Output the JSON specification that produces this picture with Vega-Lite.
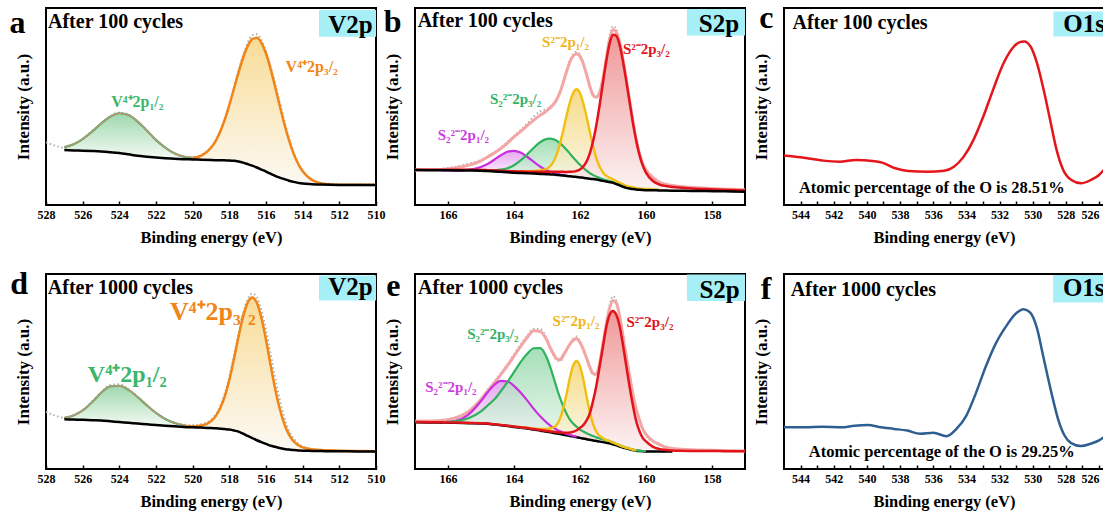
{
"$schema":"https://vega.github.io/schema/vega-lite/v6.json",
"padding":{"left":8,"top":0,"right":0,"bottom":0},
"background":"white",
"config":{
 "view":{"stroke":"#000","strokeWidth":2},
 "font":"Liberation Serif",
 "axis":{"grid":false,"labelFont":"Liberation Serif","titleFont":"Liberation Serif","labelFontWeight":"bold","titleFontWeight":"bold","labelColor":"#000","titleColor":"#000","labelFontSize":12,"titleFontSize":16.5},
 "axisX":{"domain":false,"tickSize":-4,"tickColor":"#000","tickWidth":1.5,"labelPadding":8,"titlePadding":9,"labelFlush":false,"labelOverlap":false},
 "axisY":{"domain":false,"ticks":false,"labels":false,"titlePadding":14,"titleFontSize":17},
 "text":{"font":"Liberation Serif","fontWeight":"bold"}
},
"spacing":19,
"vconcat":[
{"hconcat":[
{
"width":330,"height":197,
"data":{"values":[
{"x":528,"raw":62.5},{"x":527.5,"raw":59},
{"x":527,"bg":54.7,"g":57.6,"env":57.6,"raw":57},
{"x":526.5,"bg":54.3,"g":60.5,"env":60.5,"raw":60},
{"x":526,"bg":54,"g":65.6,"env":65.6,"raw":66},
{"x":525.5,"bg":53.7,"g":72.7,"env":72.7,"raw":73.5},
{"x":525,"bg":53.3,"g":81,"env":81,"raw":80.5},
{"x":524.5,"bg":52.6,"g":87.8,"env":87.8,"raw":88.5},
{"x":524,"bg":51.7,"g":91.3,"env":91.3,"raw":92},
{"x":523.5,"bg":50.4,"g":89.5,"env":89.5,"raw":90},
{"x":523,"bg":49,"g":83,"env":83,"raw":82.5},
{"x":522.5,"bg":48.1,"g":74.2,"env":74.2,"raw":74.5},
{"x":522,"bg":47.3,"g":64.8,"env":64.8,"raw":64},
{"x":521.5,"bg":46.6,"g":57,"env":57,"raw":57.5},
{"x":521,"bg":46,"g":51.4,"env":51.4,"raw":51},
{"x":520.5,"bg":45.6,"g":48.1,"env":48.4,"raw":48},
{"x":520,"bg":45.3,"g":46.3,"o":46.6,"env":47.6,"raw":47},
{"x":519.5,"bg":45,"o":49.3,"env":49.7,"raw":50},
{"x":519,"bg":44.7,"o":56.9,"env":57,"raw":57.5},
{"x":518.75,"bg":44.6,"o":63.6,"env":63.6,"raw":64},
{"x":518.5,"bg":44.5,"o":72.9,"env":72.9,"raw":73.5},
{"x":518.25,"bg":44.4,"o":84.9,"env":84.9,"raw":86},
{"x":518,"bg":44.3,"o":99.4,"env":99.4,"raw":100.5},
{"x":517.75,"bg":44,"o":115.5,"env":115.5,"raw":117},
{"x":517.5,"bg":43.3,"o":131.7,"env":131.7,"raw":133},
{"x":517.25,"bg":42.2,"o":146.5,"env":146.5,"raw":149},
{"x":517,"bg":40.7,"o":158.1,"env":158.1,"raw":161},
{"x":516.75,"bg":39.1,"o":165.1,"env":165.1,"raw":169},
{"x":516.5,"bg":37.3,"o":166.3,"env":166.3,"raw":170},
{"x":516.25,"bg":35.3,"o":161.3,"env":161.3,"raw":164},
{"x":516,"bg":33.3,"o":150.7,"env":150.7,"raw":153},
{"x":515.75,"bg":31.1,"o":135.4,"env":135.4,"raw":138},
{"x":515.5,"bg":29,"o":117.4,"env":117.4,"raw":121},
{"x":515.25,"bg":27.2,"o":98.7,"env":98.7,"raw":102},
{"x":515,"bg":25.7,"o":80.8,"env":80.8,"raw":84},
{"x":514.75,"bg":24.2,"o":64.7,"env":64.7,"raw":67},
{"x":514.5,"bg":23,"o":51.4,"env":51.4,"raw":53},
{"x":514.25,"bg":22,"o":41,"env":41,"raw":42},
{"x":514,"bg":21.3,"o":33.5,"env":33.5,"raw":34},
{"x":513.5,"bg":20.7,"o":25,"env":25,"raw":25.5},
{"x":513,"bg":20.3,"o":21.6,"env":21.6,"raw":22},
{"x":512.5,"bg":20.1,"o":20.4,"env":20.4,"raw":21},
{"x":512,"bg":20,"o":20.1,"env":20.1,"raw":20.5},
{"x":511,"bg":20,"o":20.05,"env":20.05,"raw":20.3},
{"x":510,"bg":20,"o":20,"env":20,"raw":20.5}
]},
"encoding":{"x":{"field":"x","type":"quantitative","scale":{"domain":[528,510],"nice":false,"zero":false},"axis":{"values":[510,512,514,516,518,520,522,524,526,528]},"title":"Binding energy (eV)"}},
"layer":[
{"mark":{"type":"area","interpolate":"monotone","fillOpacity":0.85,"color":{"gradient":"linear","x1":0,"y1":0,"x2":0,"y2":1,"stops":[{"offset":0,"color":"#8ed19f"},{"offset":1,"color":"#f4faf4"}]}},"encoding":{"y":{"field":"g","type":"quantitative","scale":{"domain":[0,196],"nice":false,"zero":false},"title":"Intensity (a.u.)"},"y2":{"field":"bg"}}},
{"mark":{"type":"area","interpolate":"monotone","fillOpacity":0.85,"color":{"gradient":"linear","x1":0,"y1":0,"x2":0,"y2":1,"stops":[{"offset":0,"color":"#f7d684"},{"offset":1,"color":"#fbf8f2"}]}},"encoding":{"y":{"field":"o","type":"quantitative","scale":{"domain":[0,196],"nice":false,"zero":false},"title":"Intensity (a.u.)"},"y2":{"field":"bg"}}},
{"mark":{"type":"line","interpolate":"monotone","color":"#b0b0b0","strokeWidth":2,"strokeDash":[1.5,2.5]},"encoding":{"y":{"field":"raw","type":"quantitative","scale":{"domain":[0,196],"nice":false,"zero":false},"title":"Intensity (a.u.)"}}},
{"mark":{"type":"line","interpolate":"monotone","color":"#3db45c","strokeWidth":2.2},"encoding":{"y":{"field":"g","type":"quantitative","scale":{"domain":[0,196],"nice":false,"zero":false},"title":"Intensity (a.u.)"}}},
{"mark":{"type":"line","interpolate":"monotone","color":"#c9907a","strokeWidth":1.3},"encoding":{"y":{"field":"env","type":"quantitative","scale":{"domain":[0,196],"nice":false,"zero":false},"title":"Intensity (a.u.)"}}},
{"mark":{"type":"line","interpolate":"monotone","color":"#f08518","strokeWidth":2.5},"encoding":{"y":{"field":"o","type":"quantitative","scale":{"domain":[0,196],"nice":false,"zero":false},"title":"Intensity (a.u.)"}}},
{"mark":{"type":"line","interpolate":"monotone","color":"#000","strokeWidth":2.5},"encoding":{"y":{"field":"bg","type":"quantitative","scale":{"domain":[0,196],"nice":false,"zero":false},"title":"Intensity (a.u.)"}}},
{"data":{"values":[{"x":513.11,"x2":510,"y":194,"y2":167.3}]},"mark":{"type":"rect","color":"#a6eff6"},"encoding":{"x2":{"field":"x2"},"y":{"field":"y","type":"quantitative","scale":{"domain":[0,196],"nice":false,"zero":false},"title":"Intensity (a.u.)"},"y2":{"field":"y2"}}},
{"data":{"values":[{"x":510.18,"y":171.3,"t":"V2p"}]},"mark":{"type":"text","align":"right","baseline":"alphabetic","fontSize":25,"color":"#000"},"encoding":{"y":{"field":"y","type":"quantitative","scale":{"domain":[0,196],"nice":false,"zero":false},"title":"Intensity (a.u.)"},"text":{"field":"t"}}},
{"data":{"values":[{"x":527.89,"y":175.7,"t":"After 100 cycles"}]},"mark":{"type":"text","align":"left","baseline":"alphabetic","fontSize":20,"color":"#000"},"encoding":{"y":{"field":"y","type":"quantitative","scale":{"domain":[0,196],"nice":false,"zero":false},"title":"Intensity (a.u.)"},"text":{"field":"t"}}},
{"data":{"values":[{"x":529.55,"y":170.7,"t":"a"}]},"mark":{"type":"text","align":"center","baseline":"alphabetic","fontSize":32,"color":"#000"},"encoding":{"y":{"field":"y","type":"quantitative","scale":{"domain":[0,196],"nice":false,"zero":false},"title":"Intensity (a.u.)"},"text":{"field":"t"}}},
{"data":{"values":[{"x":524.44,"y":97.3,"t":"V⁴⁺2p₁/₂"}]},"mark":{"type":"text","align":"left","baseline":"alphabetic","fontSize":16,"color":"#3cb66a"},"encoding":{"y":{"field":"y","type":"quantitative","scale":{"domain":[0,196],"nice":false,"zero":false},"title":"Intensity (a.u.)"},"text":{"field":"t"}}},
{"data":{"values":[{"x":514.93,"y":132.3,"t":"V⁴⁺2p₃/₂"}]},"mark":{"type":"text","align":"left","baseline":"alphabetic","fontSize":16,"color":"#f08518"},"encoding":{"y":{"field":"y","type":"quantitative","scale":{"domain":[0,196],"nice":false,"zero":false},"title":"Intensity (a.u.)"},"text":{"field":"t"}}}
]
},
{
"width":330,"height":197,
"data":{"values":[
{"x":167,"bg":28.3,"re":28.75,"env":28.5,"raw":27.5},
{"x":166.6,"bg":28.2,"re":28.7,"env":28.7,"raw":28.5},
{"x":166.2,"bg":28.1,"pu":28.1,"re":28.7,"env":29,"raw":29.5},
{"x":165.8,"bg":28,"pu":28.1,"re":28.7,"env":30.5,"raw":31.5},
{"x":165.4,"bg":27.9,"pu":28.6,"re":28.65,"env":33,"raw":34.5},
{"x":165,"bg":27.7,"pu":31.5,"gr":28.2,"re":28.5,"env":37.5,"raw":38.5},
{"x":164.8,"bg":27.3,"pu":34.5,"gr":28.1,"re":28.2,"env":41.5,"raw":41},
{"x":164.6,"bg":27,"pu":38.7,"gr":28.3,"re":28,"env":45.5,"raw":45},
{"x":164.4,"bg":26.6,"pu":43.2,"gr":28.8,"re":27.65,"env":50,"raw":51},
{"x":164.2,"bg":26.2,"pu":46.7,"gr":30.2,"re":27.4,"env":55.5,"raw":56.5},
{"x":164,"bg":25.7,"pu":47.7,"gr":33.2,"ye":27,"re":27.05,"env":61.7,"raw":62.5},
{"x":163.8,"bg":25.4,"pu":45.9,"gr":38,"ye":27,"re":26.9,"env":67,"raw":68.5},
{"x":163.6,"bg":25.1,"pu":41.7,"gr":44.1,"ye":27.1,"re":26.75,"env":73,"raw":75},
{"x":163.4,"bg":24.8,"pu":36.5,"gr":50.8,"ye":27.4,"re":26.75,"env":78.5,"raw":82},
{"x":163.2,"bg":24.5,"pu":31.7,"gr":56.5,"ye":28,"re":26.75,"env":83.5,"raw":87.5},
{"x":163,"bg":24.2,"pu":28,"gr":59.7,"ye":29.9,"re":26.75,"env":88,"raw":90},
{"x":162.9,"bg":24,"pu":26.7,"gr":60,"ye":32.4,"re":26.7,"env":91,"raw":92},
{"x":162.8,"bg":23.8,"pu":25.6,"gr":59.3,"ye":37,"re":26.65,"env":94.5,"raw":95.5},
{"x":162.7,"bg":23.5,"pu":24.7,"gr":57.7,"ye":44.6,"re":26.65,"env":99.5,"raw":100},
{"x":162.6,"bg":23.1,"pu":23.8,"gr":55.1,"ye":55.7,"re":26.55,"env":107,"raw":107.5},
{"x":162.5,"bg":22.8,"pu":23.25,"gr":52,"ye":69.4,"re":26.55,"env":117,"raw":118},
{"x":162.4,"bg":22.4,"pu":22.65,"gr":48.4,"ye":84,"re":26.45,"env":128,"raw":129},
{"x":162.3,"bg":22.1,"gr":44.6,"ye":96.9,"re":26.6,"env":137.5,"raw":138.5},
{"x":162.2,"bg":21.7,"gr":40.7,"ye":106.2,"re":26.8,"env":143,"raw":145},
{"x":162.1,"bg":21.4,"gr":37.1,"ye":109.4,"re":27.55,"env":145,"raw":147},
{"x":162,"bg":21,"gr":33.6,"ye":105.5,"re":28.95,"env":142.5,"raw":144},
{"x":161.9,"bg":20.6,"gr":30.4,"ye":95.4,"re":32,"env":135,"raw":136},
{"x":161.8,"bg":20.2,"gr":27.7,"ye":81.8,"re":37,"env":124,"raw":125},
{"x":161.7,"bg":19.7,"gr":25.2,"ye":66.3,"re":45.4,"env":112,"raw":112.5},
{"x":161.6,"bg":19.3,"gr":23.3,"ye":51.9,"re":57.7,"env":103.5,"raw":103},
{"x":161.5,"bg":18.8,"gr":21.7,"ye":39.9,"re":74.3,"env":101.5,"raw":102},
{"x":161.4,"bg":18.2,"gr":20.4,"ye":31.4,"re":94.7,"env":107,"raw":108},
{"x":161.3,"bg":17.5,"gr":19.1,"ye":25.9,"re":117,"env":121,"raw":122},
{"x":161.2,"bg":16.8,"gr":18.1,"ye":22.5,"re":138.3,"env":141,"raw":143},
{"x":161.1,"bg":16.2,"gr":17.2,"ye":20.6,"re":155.7,"env":160,"raw":163},
{"x":161,"bg":15.5,"gr":16.3,"ye":19,"re":164.2,"env":169.5,"raw":173},
{"x":160.9,"bg":14.2,"gr":14.8,"ye":17.2,"re":163.2,"env":166.5,"raw":170},
{"x":160.8,"bg":13,"gr":13.5,"ye":15.6,"re":154,"env":157,"raw":159},
{"x":160.7,"bg":11.7,"gr":12.1,"ye":14,"re":137.9,"env":140,"raw":141.5},
{"x":160.6,"bg":10.5,"gr":10.8,"ye":12.5,"re":118.1,"env":120,"raw":121},
{"x":160.5,"bg":9.9,"gr":10.15,"ye":11.7,"re":97.1,"env":99,"raw":100},
{"x":160.4,"bg":9.3,"gr":9.5,"ye":10.9,"re":76.5,"env":78,"raw":79},
{"x":160.3,"bg":8.8,"ye":10.25,"re":58.3,"env":60,"raw":61},
{"x":160.2,"bg":8.5,"ye":9.8,"re":43.8,"env":45,"raw":46},
{"x":160.1,"bg":8.3,"ye":9.5,"re":33.1,"env":35,"raw":35.5},
{"x":160,"bg":8.2,"ye":9.3,"re":25.8,"env":28.5,"raw":29.5},
{"x":159.8,"bg":8.1,"ye":9,"re":17.6,"env":21,"raw":22},
{"x":159.6,"bg":7.9,"ye":8.7,"re":13.9,"env":16,"raw":17},
{"x":159.4,"bg":7.8,"re":12.3,"env":14,"raw":14.5},
{"x":159.2,"bg":7.7,"re":11.45,"env":12.8,"raw":13},
{"x":159,"bg":7.6,"re":10.75,"env":12,"raw":12},
{"x":158.6,"bg":7.4,"re":9.8,"env":10.8,"raw":11},
{"x":158.2,"bg":7.3,"re":9.25,"env":10,"raw":10.5},
{"x":157.8,"bg":7.1,"re":8.75,"env":9.4,"raw":9.5},
{"x":157.4,"bg":6.9,"re":8.25,"env":9,"raw":8.5},
{"x":157,"bg":6.7,"re":7.9,"env":8.6,"raw":9}
]},
"encoding":{"x":{"field":"x","type":"quantitative","scale":{"domain":[167,157],"nice":false,"zero":false},"axis":{"values":[158,160,162,164,166]},"title":"Binding energy (eV)"}},
"layer":[
{"mark":{"type":"area","interpolate":"monotone","fillOpacity":0.8,"color":{"gradient":"linear","x1":0,"y1":0,"x2":0,"y2":1,"stops":[{"offset":0,"color":"#e391f0"},{"offset":1,"color":"#fbf3fb"}]}},"encoding":{"y":{"field":"pu","type":"quantitative","scale":{"domain":[-6.7,191],"nice":false,"zero":false},"title":"Intensity (a.u.)"},"y2":{"field":"bg"}}},
{"mark":{"type":"area","interpolate":"monotone","fillOpacity":0.8,"color":{"gradient":"linear","x1":0,"y1":0,"x2":0,"y2":1,"stops":[{"offset":0,"color":"#8fd7a6"},{"offset":1,"color":"#f3faf4"}]}},"encoding":{"y":{"field":"gr","type":"quantitative","scale":{"domain":[-6.7,191],"nice":false,"zero":false},"title":"Intensity (a.u.)"},"y2":{"field":"bg"}}},
{"mark":{"type":"area","interpolate":"monotone","fillOpacity":0.8,"color":{"gradient":"linear","x1":0,"y1":0,"x2":0,"y2":1,"stops":[{"offset":0,"color":"#f3d36a"},{"offset":1,"color":"#fcf8ee"}]}},"encoding":{"y":{"field":"ye","type":"quantitative","scale":{"domain":[-6.7,191],"nice":false,"zero":false},"title":"Intensity (a.u.)"},"y2":{"field":"bg"}}},
{"mark":{"type":"area","interpolate":"monotone","fillOpacity":0.8,"color":{"gradient":"linear","x1":0,"y1":0,"x2":0,"y2":1,"stops":[{"offset":0,"color":"#ec7f7f"},{"offset":1,"color":"#fbf0f0"}]}},"encoding":{"y":{"field":"re","type":"quantitative","scale":{"domain":[-6.7,191],"nice":false,"zero":false},"title":"Intensity (a.u.)"},"y2":{"field":"bg"}}},
{"mark":{"type":"line","interpolate":"monotone","color":"#b0b0b0","strokeWidth":2,"strokeDash":[1.5,2.5]},"encoding":{"y":{"field":"raw","type":"quantitative","scale":{"domain":[-6.7,191],"nice":false,"zero":false},"title":"Intensity (a.u.)"}}},
{"mark":{"type":"line","interpolate":"monotone","color":"#f4a5a5","strokeWidth":3},"encoding":{"y":{"field":"env","type":"quantitative","scale":{"domain":[-6.7,191],"nice":false,"zero":false},"title":"Intensity (a.u.)"}}},
{"mark":{"type":"line","interpolate":"monotone","color":"#c630e0","strokeWidth":2.2},"encoding":{"y":{"field":"pu","type":"quantitative","scale":{"domain":[-6.7,191],"nice":false,"zero":false},"title":"Intensity (a.u.)"}}},
{"mark":{"type":"line","interpolate":"monotone","color":"#2eb35c","strokeWidth":2.2},"encoding":{"y":{"field":"gr","type":"quantitative","scale":{"domain":[-6.7,191],"nice":false,"zero":false},"title":"Intensity (a.u.)"}}},
{"mark":{"type":"line","interpolate":"monotone","color":"#f2be10","strokeWidth":2.4},"encoding":{"y":{"field":"ye","type":"quantitative","scale":{"domain":[-6.7,191],"nice":false,"zero":false},"title":"Intensity (a.u.)"}}},
{"mark":{"type":"line","interpolate":"monotone","color":"#e0141a","strokeWidth":2.5},"encoding":{"y":{"field":"re","type":"quantitative","scale":{"domain":[-6.7,191],"nice":false,"zero":false},"title":"Intensity (a.u.)"}}},
{"mark":{"type":"line","interpolate":"monotone","color":"#000","strokeWidth":2.5},"encoding":{"y":{"field":"bg","type":"quantitative","scale":{"domain":[-6.7,191],"nice":false,"zero":false},"title":"Intensity (a.u.)"}}},
{"data":{"values":[{"x":158.76,"x2":157,"y":190,"y2":163.3}]},"mark":{"type":"rect","color":"#a6eff6"},"encoding":{"x2":{"field":"x2"},"y":{"field":"y","type":"quantitative","scale":{"domain":[-6.7,191],"nice":false,"zero":false},"title":"Intensity (a.u.)"},"y2":{"field":"y2"}}},
{"data":{"values":[{"x":157.18,"y":167.3,"t":"S2p"}]},"mark":{"type":"text","align":"right","baseline":"alphabetic","fontSize":25,"color":"#000"},"encoding":{"y":{"field":"y","type":"quantitative","scale":{"domain":[-6.7,191],"nice":false,"zero":false},"title":"Intensity (a.u.)"},"text":{"field":"t"}}},
{"data":{"values":[{"x":166.92,"y":171.7,"t":"After 100 cycles"}]},"mark":{"type":"text","align":"left","baseline":"alphabetic","fontSize":20,"color":"#000"},"encoding":{"y":{"field":"y","type":"quantitative","scale":{"domain":[-6.7,191],"nice":false,"zero":false},"title":"Intensity (a.u.)"},"text":{"field":"t"}}},
{"data":{"values":[{"x":167.68,"y":166.7,"t":"b"}]},"mark":{"type":"text","align":"center","baseline":"alphabetic","fontSize":32,"color":"#000"},"encoding":{"y":{"field":"y","type":"quantitative","scale":{"domain":[-6.7,191],"nice":false,"zero":false},"title":"Intensity (a.u.)"},"text":{"field":"t"}}},
{"data":{"values":[{"x":163.15,"y":151.7,"t":"S²⁻2p₁/₂"}]},"mark":{"type":"text","align":"left","baseline":"alphabetic","fontSize":15,"color":"#f0b51a"},"encoding":{"y":{"field":"y","type":"quantitative","scale":{"domain":[-6.7,191],"nice":false,"zero":false},"title":"Intensity (a.u.)"},"text":{"field":"t"}}},
{"data":{"values":[{"x":160.7,"y":145,"t":"S²⁻2p₃/₂"}]},"mark":{"type":"text","align":"left","baseline":"alphabetic","fontSize":15,"color":"#e0141a"},"encoding":{"y":{"field":"y","type":"quantitative","scale":{"domain":[-6.7,191],"nice":false,"zero":false},"title":"Intensity (a.u.)"},"text":{"field":"t"}}},
{"data":{"values":[{"x":164.73,"y":94.3,"t":"S₂²⁻2p₃/₂"}]},"mark":{"type":"text","align":"left","baseline":"alphabetic","fontSize":15,"color":"#33b466"},"encoding":{"y":{"field":"y","type":"quantitative","scale":{"domain":[-6.7,191],"nice":false,"zero":false},"title":"Intensity (a.u.)"},"text":{"field":"t"}}},
{"data":{"values":[{"x":166.31,"y":59,"t":"S₂²⁻2p₁/₂"}]},"mark":{"type":"text","align":"left","baseline":"alphabetic","fontSize":15,"color":"#cc3de0"},"encoding":{"y":{"field":"y","type":"quantitative","scale":{"domain":[-6.7,191],"nice":false,"zero":false},"title":"Intensity (a.u.)"},"text":{"field":"t"}}}
]
},
{
"width":320,"height":197,
"data":{"values":[
{"x":545,"v":49.5},{"x":544,"v":47.7},{"x":543.3,"v":46},{"x":542.62,"v":44.3},{"x":541.64,"v":43.3},{"x":540.66,"v":45},{"x":539.67,"v":44},{"x":539.08,"v":42.3},{"x":538.29,"v":36.7},{"x":537.51,"v":34},{"x":536.33,"v":33.3},{"x":535.34,"v":34.3},{"x":534.75,"v":38.3},{"x":534.16,"v":48.3},{"x":533.57,"v":65},{"x":532.98,"v":88.3},{"x":532.39,"v":115},{"x":531.8,"v":140},{"x":531.21,"v":156.7},{"x":530.82,"v":162.3},{"x":530.52,"v":163.3},{"x":530.13,"v":158.3},{"x":529.74,"v":141.7},{"x":529.34,"v":115},{"x":528.95,"v":85},{"x":528.56,"v":55},{"x":528.16,"v":35},{"x":527.67,"v":25},{"x":527.08,"v":21.7},{"x":526.49,"v":25},{"x":526,"v":30},{"x":525.72,"v":35}
]},
"encoding":{"x":{"field":"x","type":"quantitative","scale":{"domain":[545,525.7],"nice":false,"zero":false},"axis":{"values":[526,527,528,529,530,531,532,533,534,535,536,537,538,539,540,541,542,543,544],"labelExpr":"datum.value % 2 === 0 ? datum.label : ''","labelFlush":8},"title":"Binding energy (eV)"}},
"layer":[
{"mark":{"type":"line","interpolate":"monotone","color":"#e4161b","strokeWidth":2.5,"clip":true},"encoding":{"y":{"field":"v","type":"quantitative","scale":{"domain":[0,196.7],"nice":false,"zero":false},"title":"Intensity (a.u.)"}}},
{"data":{"values":[{"x":528.75,"x2":525.7,"y":193.3,"y2":168.3}]},"mark":{"type":"rect","color":"#a6eff6","clip":true},"encoding":{"x2":{"field":"x2"},"y":{"field":"y","type":"quantitative","scale":{"domain":[0,196.7],"nice":false,"zero":false},"title":"Intensity (a.u.)"},"y2":{"field":"y2"}}},
{"data":{"values":[{"x":528.16,"y":172.3,"t":"O1s"}]},"mark":{"type":"text","align":"left","baseline":"alphabetic","fontSize":25,"color":"#000","clip":true},"encoding":{"y":{"field":"y","type":"quantitative","scale":{"domain":[0,196.7],"nice":false,"zero":false},"title":"Intensity (a.u.)"},"text":{"field":"t"}}},
{"data":{"values":[{"x":544.49,"y":175.7,"t":"After 100 cycles"}]},"mark":{"type":"text","align":"left","baseline":"alphabetic","fontSize":20,"color":"#000"},"encoding":{"y":{"field":"y","type":"quantitative","scale":{"domain":[0,196.7],"nice":false,"zero":false},"title":"Intensity (a.u.)"},"text":{"field":"t"}}},
{"data":{"values":[{"x":546.07,"y":177,"t":"c"}]},"mark":{"type":"text","align":"center","baseline":"alphabetic","fontSize":32,"color":"#000"},"encoding":{"y":{"field":"y","type":"quantitative","scale":{"domain":[0,196.7],"nice":false,"zero":false},"title":"Intensity (a.u.)"},"text":{"field":"t"}}},
{"data":{"values":[{"x":544.1,"y":11.7,"t":"Atomic percentage of the O is 28.51%"}]},"mark":{"type":"text","align":"left","baseline":"alphabetic","fontSize":16.5,"color":"#000"},"encoding":{"y":{"field":"y","type":"quantitative","scale":{"domain":[0,196.7],"nice":false,"zero":false},"title":"Intensity (a.u.)"},"text":{"field":"t"}}}
]
}
],"spacing":39,"bounds":"flush"},
{"hconcat":[
{
"width":330,"height":195,
"data":{"values":[
{"x":528,"raw":50},{"x":527.5,"raw":46},
{"x":527,"bg":42.3,"g":43.8,"env":43.8,"raw":44},
{"x":526.5,"bg":42,"g":46.1,"env":46.1,"raw":46.5},
{"x":526,"bg":41.7,"g":51.2,"env":51.2,"raw":51.5},
{"x":525.5,"bg":41.3,"g":59.2,"env":59.2,"raw":60},
{"x":525,"bg":41,"g":68.7,"env":68.7,"raw":69.5},
{"x":524.5,"bg":40.3,"g":75.3,"env":75.3,"raw":76.5},
{"x":524,"bg":39.5,"g":76,"env":76,"raw":77.5},
{"x":523.5,"bg":38.8,"g":71.8,"env":71.8,"raw":72.5},
{"x":523,"bg":38,"g":64.6,"env":64.6,"raw":65},
{"x":522.5,"bg":37.3,"g":56.3,"env":56.3,"raw":56.5},
{"x":522,"bg":36.5,"g":48.6,"env":48.6,"raw":48.5},
{"x":521.5,"bg":35.8,"g":42.6,"env":42.6,"raw":42.5},
{"x":521,"bg":35.2,"g":38.6,"env":38.6,"raw":39},
{"x":520.5,"bg":34.6,"g":36.1,"o":34.9,"env":36.5,"raw":37},
{"x":520,"bg":34.2,"g":34.8,"o":35.1,"env":35.7,"raw":36.5},
{"x":519.5,"bg":33.9,"o":36,"env":36.2,"raw":37.5},
{"x":519,"bg":33.5,"o":40.3,"env":40.3,"raw":42},
{"x":518.75,"bg":33.2,"o":45.2,"env":45.2,"raw":47},
{"x":518.5,"bg":32.8,"o":53.3,"env":53.3,"raw":55.5},
{"x":518.25,"bg":32.4,"o":65.2,"env":65.2,"raw":68},
{"x":518,"bg":31.9,"o":81.8,"env":81.8,"raw":85},
{"x":517.75,"bg":31,"o":102.7,"env":102.7,"raw":106},
{"x":517.5,"bg":29.8,"o":125.2,"env":125.2,"raw":128},
{"x":517.25,"bg":27.8,"o":145.3,"env":145.3,"raw":149},
{"x":517,"bg":25.5,"o":159.4,"env":159.4,"raw":163},
{"x":516.75,"bg":23.4,"o":164.7,"env":164.7,"raw":168.5},
{"x":516.5,"bg":21.2,"o":159.4,"env":159.4,"raw":165},
{"x":516.25,"bg":19.3,"o":144.2,"env":144.2,"raw":152},
{"x":516,"bg":17.6,"o":122.3,"env":122.3,"raw":132},
{"x":515.75,"bg":15.8,"o":96.9,"env":96.9,"raw":108},
{"x":515.5,"bg":14.6,"o":72.8,"env":72.8,"raw":84},
{"x":515.25,"bg":13.4,"o":52.8,"env":52.8,"raw":62},
{"x":515,"bg":12.3,"o":37.5,"env":37.5,"raw":44},
{"x":514.75,"bg":11.8,"o":27.1,"env":27.1,"raw":31},
{"x":514.5,"bg":11.3,"o":20.2,"env":20.2,"raw":23},
{"x":514.25,"bg":11,"o":16.4,"env":16.4,"raw":18},
{"x":514,"bg":10.7,"o":14,"env":14,"raw":15},
{"x":513.5,"bg":10.5,"o":12.2,"env":12.2,"raw":12.5},
{"x":513,"bg":10.3,"o":11.4,"env":11.4,"raw":11.5},
{"x":512.5,"bg":10.2,"o":11.05,"env":11.05,"raw":11},
{"x":512,"bg":10.1,"o":10.7,"env":10.7,"raw":10.8},
{"x":511,"bg":10,"o":10.3,"env":10.3,"raw":10.5},
{"x":510,"bg":10,"o":10.2,"env":10.2,"raw":10.5}
]},
"encoding":{"x":{"field":"x","type":"quantitative","scale":{"domain":[528,510],"nice":false,"zero":false},"axis":{"values":[510,512,514,516,518,520,522,524,526,528]},"title":"Binding energy (eV)"}},
"layer":[
{"mark":{"type":"area","interpolate":"monotone","fillOpacity":0.85,"color":{"gradient":"linear","x1":0,"y1":0,"x2":0,"y2":1,"stops":[{"offset":0,"color":"#8ed19f"},{"offset":1,"color":"#f4faf4"}]}},"encoding":{"y":{"field":"g","type":"quantitative","scale":{"domain":[-7.7,188.3],"nice":false,"zero":false},"title":"Intensity (a.u.)"},"y2":{"field":"bg"}}},
{"mark":{"type":"area","interpolate":"monotone","fillOpacity":0.85,"color":{"gradient":"linear","x1":0,"y1":0,"x2":0,"y2":1,"stops":[{"offset":0,"color":"#f7d684"},{"offset":1,"color":"#fbf8f2"}]}},"encoding":{"y":{"field":"o","type":"quantitative","scale":{"domain":[-7.7,188.3],"nice":false,"zero":false},"title":"Intensity (a.u.)"},"y2":{"field":"bg"}}},
{"data":{"values":[{"x":521.24,"y":141.7,"t":"V⁴⁺2p₃/₂"}]},"mark":{"type":"text","align":"left","baseline":"alphabetic","fontSize":26,"color":"#f08518"},"encoding":{"y":{"field":"y","type":"quantitative","scale":{"domain":[-7.7,188.3],"nice":false,"zero":false},"title":"Intensity (a.u.)"},"text":{"field":"t"}}},
{"mark":{"type":"line","interpolate":"monotone","color":"#b0b0b0","strokeWidth":2,"strokeDash":[1.5,2.5]},"encoding":{"y":{"field":"raw","type":"quantitative","scale":{"domain":[-7.7,188.3],"nice":false,"zero":false},"title":"Intensity (a.u.)"}}},
{"mark":{"type":"line","interpolate":"monotone","color":"#3db45c","strokeWidth":2.2},"encoding":{"y":{"field":"g","type":"quantitative","scale":{"domain":[-7.7,188.3],"nice":false,"zero":false},"title":"Intensity (a.u.)"}}},
{"mark":{"type":"line","interpolate":"monotone","color":"#c9907a","strokeWidth":1.3},"encoding":{"y":{"field":"env","type":"quantitative","scale":{"domain":[-7.7,188.3],"nice":false,"zero":false},"title":"Intensity (a.u.)"}}},
{"mark":{"type":"line","interpolate":"monotone","color":"#f08518","strokeWidth":2.5},"encoding":{"y":{"field":"o","type":"quantitative","scale":{"domain":[-7.7,188.3],"nice":false,"zero":false},"title":"Intensity (a.u.)"}}},
{"mark":{"type":"line","interpolate":"monotone","color":"#000","strokeWidth":2.5},"encoding":{"y":{"field":"bg","type":"quantitative","scale":{"domain":[-7.7,188.3],"nice":false,"zero":false},"title":"Intensity (a.u.)"}}},
{"data":{"values":[{"x":513.11,"x2":510,"y":186.7,"y2":161.7}]},"mark":{"type":"rect","color":"#a6eff6"},"encoding":{"x2":{"field":"x2"},"y":{"field":"y","type":"quantitative","scale":{"domain":[-7.7,188.3],"nice":false,"zero":false},"title":"Intensity (a.u.)"},"y2":{"field":"y2"}}},
{"data":{"values":[{"x":510.18,"y":166.7,"t":"V2p"}]},"mark":{"type":"text","align":"right","baseline":"alphabetic","fontSize":25,"color":"#000"},"encoding":{"y":{"field":"y","type":"quantitative","scale":{"domain":[-7.7,188.3],"nice":false,"zero":false},"title":"Intensity (a.u.)"},"text":{"field":"t"}}},
{"data":{"values":[{"x":527.9,"y":168.3,"t":"After 1000 cycles"}]},"mark":{"type":"text","align":"left","baseline":"alphabetic","fontSize":20,"color":"#000"},"encoding":{"y":{"field":"y","type":"quantitative","scale":{"domain":[-7.7,188.3],"nice":false,"zero":false},"title":"Intensity (a.u.)"},"text":{"field":"t"}}},
{"data":{"values":[{"x":529.46,"y":168.3,"t":"d"}]},"mark":{"type":"text","align":"center","baseline":"alphabetic","fontSize":32,"color":"#000"},"encoding":{"y":{"field":"y","type":"quantitative","scale":{"domain":[-7.7,188.3],"nice":false,"zero":false},"title":"Intensity (a.u.)"},"text":{"field":"t"}}},
{"data":{"values":[{"x":525.72,"y":80,"t":"V⁴⁺2p₁/₂"}]},"mark":{"type":"text","align":"left","baseline":"alphabetic","fontSize":24,"color":"#3cb66a"},"encoding":{"y":{"field":"y","type":"quantitative","scale":{"domain":[-7.7,188.3],"nice":false,"zero":false},"title":"Intensity (a.u.)"},"text":{"field":"t"}}}
]
},
{
"width":330,"height":195,
"data":{"values":[
{"x":167,"bg":47.3,"re":47.6,"env":48.3,"raw":47.5},
{"x":166.6,"bg":47.1,"re":47.4,"env":48.6,"raw":48},
{"x":166.2,"bg":46.9,"pu":47.2,"gr":47.3,"re":47.2,"env":49,"raw":49.5},
{"x":165.8,"bg":46.7,"pu":48.6,"gr":48.2,"re":47,"env":51.5,"raw":52},
{"x":165.4,"bg":46.4,"pu":54.6,"gr":51.1,"re":46.7,"env":57.5,"raw":58.5},
{"x":165,"bg":46.1,"pu":68.8,"gr":58.3,"re":46.4,"env":70.5,"raw":71},
{"x":164.8,"bg":45.8,"pu":77.6,"gr":64.3,"re":46.1,"env":79,"raw":80},
{"x":164.6,"bg":45,"pu":85,"gr":70.2,"re":45.35,"env":87,"raw":88.5},
{"x":164.4,"bg":44.3,"pu":89.1,"gr":78.7,"re":44.65,"env":95.5,"raw":97},
{"x":164.2,"bg":43.5,"pu":88.5,"gr":88,"re":43.85,"env":104.5,"raw":106},
{"x":164,"bg":42.6,"pu":84.2,"gr":98,"re":43,"env":114.2,"raw":116},
{"x":163.8,"bg":41.8,"pu":77.5,"gr":108.2,"ye":42.3,"re":42.25,"env":124,"raw":126},
{"x":163.6,"bg":41,"pu":69.4,"gr":116.6,"ye":41.75,"re":41.5,"env":133,"raw":135},
{"x":163.4,"bg":39.9,"pu":60.8,"gr":122.2,"ye":41.05,"re":40.45,"env":139.8,"raw":142},
{"x":163.2,"bg":38.8,"pu":53,"gr":122.4,"ye":40.5,"re":39.45,"env":139,"raw":141.5},
{"x":163,"bg":37.7,"pu":46.7,"gr":112,"ye":40.4,"re":38.5,"env":130,"raw":131},
{"x":162.9,"bg":37.1,"pu":44,"gr":103,"ye":40.95,"re":38.05,"env":122.5,"raw":122},
{"x":162.8,"bg":36.5,"pu":41.7,"gr":92.4,"ye":42.3,"re":37.6,"env":116.5,"raw":114.5},
{"x":162.7,"bg":35.9,"pu":39.8,"gr":81.3,"ye":45.1,"re":37.2,"env":111.5,"raw":110},
{"x":162.6,"bg":35.3,"pu":38.1,"gr":71.4,"ye":51.5,"re":36.9,"env":110.5,"raw":109},
{"x":162.5,"bg":34.7,"pu":36.7,"gr":62.8,"ye":62.4,"re":36.7,"env":115.5,"raw":114},
{"x":162.4,"bg":34,"pu":35.4,"gr":55.4,"ye":77.1,"re":36.6,"env":121,"raw":121},
{"x":162.3,"bg":33.4,"pu":34.4,"gr":49.8,"ye":93.4,"re":37,"env":126.5,"raw":127},
{"x":162.2,"bg":32.8,"pu":33.5,"gr":45.8,"ye":105.2,"re":37.8,"env":130.5,"raw":132},
{"x":162.1,"bg":32.2,"pu":32.65,"gr":42.7,"ye":109.2,"re":39.2,"env":131.7,"raw":134},
{"x":162,"bg":31.5,"gr":39.9,"ye":103.9,"re":41.6,"env":128,"raw":129},
{"x":161.9,"bg":30.9,"gr":37.9,"ye":90.9,"re":44.4,"env":121,"raw":121},
{"x":161.8,"bg":30.2,"gr":36.1,"ye":73.3,"re":49.1,"env":112,"raw":111},
{"x":161.7,"bg":29.6,"gr":34.6,"ye":57.3,"re":56.6,"env":103,"raw":101},
{"x":161.6,"bg":28.9,"gr":33.3,"ye":45.1,"re":69.4,"env":96.5,"raw":95},
{"x":161.5,"bg":28.3,"gr":32,"ye":37.5,"re":85,"env":96,"raw":96},
{"x":161.4,"bg":27.7,"gr":30.9,"ye":33.5,"re":104.7,"env":108,"raw":108},
{"x":161.3,"bg":27.2,"gr":29.9,"ye":31.05,"re":124.4,"env":128,"raw":129},
{"x":161.2,"bg":26.6,"gr":28.95,"ye":29.3,"re":144.1,"env":147,"raw":149},
{"x":161.1,"bg":26,"gr":28.1,"ye":28.1,"re":156.3,"env":163,"raw":166},
{"x":161,"bg":24.9,"gr":26.7,"ye":26.6,"re":159.9,"env":170.5,"raw":175},
{"x":160.9,"bg":23.9,"gr":25.4,"ye":25.3,"re":156,"env":168,"raw":170},
{"x":160.8,"bg":22.8,"gr":24.1,"ye":23.95,"re":145,"env":155,"raw":156},
{"x":160.7,"bg":21.7,"gr":22.8,"ye":22.6,"re":126,"env":135,"raw":136},
{"x":160.6,"bg":20.9,"gr":21.8,"ye":21.65,"re":105,"env":114,"raw":115},
{"x":160.5,"bg":20,"gr":20.75,"ye":20.6,"re":84,"env":95,"raw":96},
{"x":160.4,"bg":19.2,"gr":19.8,"ye":19.7,"re":65,"env":76,"raw":77},
{"x":160.3,"bg":18.4,"gr":18.9,"ye":18.8,"re":49,"env":61,"raw":62},
{"x":160.2,"bg":18.1,"gr":18.5,"re":38.5,"env":50,"raw":50},
{"x":160.1,"bg":17.9,"gr":18.2,"re":31.5,"env":40.5,"raw":40},
{"x":160,"bg":17.8,"gr":18,"re":27.9,"env":35,"raw":34},
{"x":159.8,"bg":17.7,"re":22.7,"env":28.5,"raw":28},
{"x":159.6,"bg":17.7,"re":20.3,"env":25,"raw":24.5},
{"x":159.4,"bg":17.7,"re":19.3,"env":22,"raw":22},
{"x":159.2,"bg":17.7,"re":18.8,"env":20.8,"raw":20.5},
{"x":159,"bg":17.7,"re":18.5,"env":20.2,"raw":20},
{"x":158.6,"bg":17.7,"re":18.25,"env":19.4,"raw":19},
{"x":158.2,"bg":17.7,"re":18.15,"env":19,"raw":19.5},
{"x":157.8,"bg":17.7,"re":18.1,"env":18.8,"raw":18.5},
{"x":157.4,"bg":17.7,"re":18,"env":18.5,"raw":18.5},
{"x":157,"bg":17.7,"re":18,"env":18.3,"raw":18}
]},
"encoding":{"x":{"field":"x","type":"quantitative","scale":{"domain":[167,157],"nice":false,"zero":false},"axis":{"values":[158,160,162,164,166]},"title":"Binding energy (eV)"}},
"layer":[
{"mark":{"type":"area","interpolate":"monotone","fillOpacity":0.8,"color":{"gradient":"linear","x1":0,"y1":0,"x2":0,"y2":1,"stops":[{"offset":0,"color":"#e391f0"},{"offset":1,"color":"#fbf3fb"}]}},"encoding":{"y":{"field":"pu","type":"quantitative","scale":{"domain":[0,197.3],"nice":false,"zero":false},"title":"Intensity (a.u.)"},"y2":{"field":"bg"}}},
{"mark":{"type":"area","interpolate":"monotone","fillOpacity":0.8,"color":{"gradient":"linear","x1":0,"y1":0,"x2":0,"y2":1,"stops":[{"offset":0,"color":"#8fd7a6"},{"offset":1,"color":"#f3faf4"}]}},"encoding":{"y":{"field":"gr","type":"quantitative","scale":{"domain":[0,197.3],"nice":false,"zero":false},"title":"Intensity (a.u.)"},"y2":{"field":"bg"}}},
{"mark":{"type":"area","interpolate":"monotone","fillOpacity":0.8,"color":{"gradient":"linear","x1":0,"y1":0,"x2":0,"y2":1,"stops":[{"offset":0,"color":"#f3d36a"},{"offset":1,"color":"#fcf8ee"}]}},"encoding":{"y":{"field":"ye","type":"quantitative","scale":{"domain":[0,197.3],"nice":false,"zero":false},"title":"Intensity (a.u.)"},"y2":{"field":"bg"}}},
{"mark":{"type":"area","interpolate":"monotone","fillOpacity":0.8,"color":{"gradient":"linear","x1":0,"y1":0,"x2":0,"y2":1,"stops":[{"offset":0,"color":"#ec7f7f"},{"offset":1,"color":"#fbf0f0"}]}},"encoding":{"y":{"field":"re","type":"quantitative","scale":{"domain":[0,197.3],"nice":false,"zero":false},"title":"Intensity (a.u.)"},"y2":{"field":"bg"}}},
{"mark":{"type":"line","interpolate":"monotone","color":"#b0b0b0","strokeWidth":2,"strokeDash":[1.5,2.5]},"encoding":{"y":{"field":"raw","type":"quantitative","scale":{"domain":[0,197.3],"nice":false,"zero":false},"title":"Intensity (a.u.)"}}},
{"mark":{"type":"line","interpolate":"monotone","color":"#f4a5a5","strokeWidth":3},"encoding":{"y":{"field":"env","type":"quantitative","scale":{"domain":[0,197.3],"nice":false,"zero":false},"title":"Intensity (a.u.)"}}},
{"transform":[{"filter":"datum.x >= 159.2"}],"mark":{"type":"line","interpolate":"monotone","color":"#000","strokeWidth":2.5},"encoding":{"y":{"field":"bg","type":"quantitative","scale":{"domain":[0,197.3],"nice":false,"zero":false},"title":"Intensity (a.u.)"}}},
{"mark":{"type":"line","interpolate":"monotone","color":"#c630e0","strokeWidth":2.2},"encoding":{"y":{"field":"pu","type":"quantitative","scale":{"domain":[0,197.3],"nice":false,"zero":false},"title":"Intensity (a.u.)"}}},
{"mark":{"type":"line","interpolate":"monotone","color":"#2eb35c","strokeWidth":2.2},"encoding":{"y":{"field":"gr","type":"quantitative","scale":{"domain":[0,197.3],"nice":false,"zero":false},"title":"Intensity (a.u.)"}}},
{"mark":{"type":"line","interpolate":"monotone","color":"#f2be10","strokeWidth":2.4},"encoding":{"y":{"field":"ye","type":"quantitative","scale":{"domain":[0,197.3],"nice":false,"zero":false},"title":"Intensity (a.u.)"}}},
{"mark":{"type":"line","interpolate":"monotone","color":"#e0141a","strokeWidth":2.5},"encoding":{"y":{"field":"re","type":"quantitative","scale":{"domain":[0,197.3],"nice":false,"zero":false},"title":"Intensity (a.u.)"}}},
{"data":{"values":[{"x":158.76,"x2":157,"y":196.7,"y2":170}]},"mark":{"type":"rect","color":"#a6eff6"},"encoding":{"x2":{"field":"x2"},"y":{"field":"y","type":"quantitative","scale":{"domain":[0,197.3],"nice":false,"zero":false},"title":"Intensity (a.u.)"},"y2":{"field":"y2"}}},
{"data":{"values":[{"x":157.16,"y":173.3,"t":"S2p"}]},"mark":{"type":"text","align":"right","baseline":"alphabetic","fontSize":25,"color":"#000"},"encoding":{"y":{"field":"y","type":"quantitative","scale":{"domain":[0,197.3],"nice":false,"zero":false},"title":"Intensity (a.u.)"},"text":{"field":"t"}}},
{"data":{"values":[{"x":166.91,"y":176.7,"t":"After 1000 cycles"}]},"mark":{"type":"text","align":"left","baseline":"alphabetic","fontSize":20,"color":"#000"},"encoding":{"y":{"field":"y","type":"quantitative","scale":{"domain":[0,197.3],"nice":false,"zero":false},"title":"Intensity (a.u.)"},"text":{"field":"t"}}},
{"data":{"values":[{"x":167.66,"y":175,"t":"e"}]},"mark":{"type":"text","align":"center","baseline":"alphabetic","fontSize":32,"color":"#000"},"encoding":{"y":{"field":"y","type":"quantitative","scale":{"domain":[0,197.3],"nice":false,"zero":false},"title":"Intensity (a.u.)"},"text":{"field":"t"}}},
{"data":{"values":[{"x":162.83,"y":145,"t":"S²⁻2p₁/₂"}]},"mark":{"type":"text","align":"left","baseline":"alphabetic","fontSize":15,"color":"#f0b51a"},"encoding":{"y":{"field":"y","type":"quantitative","scale":{"domain":[0,197.3],"nice":false,"zero":false},"title":"Intensity (a.u.)"},"text":{"field":"t"}}},
{"data":{"values":[{"x":160.59,"y":143.3,"t":"S²⁻2p₃/₂"}]},"mark":{"type":"text","align":"left","baseline":"alphabetic","fontSize":15,"color":"#e0141a"},"encoding":{"y":{"field":"y","type":"quantitative","scale":{"domain":[0,197.3],"nice":false,"zero":false},"title":"Intensity (a.u.)"},"text":{"field":"t"}}},
{"data":{"values":[{"x":165.42,"y":131.7,"t":"S₂²⁻2p₃/₂"}]},"mark":{"type":"text","align":"left","baseline":"alphabetic","fontSize":15,"color":"#33b466"},"encoding":{"y":{"field":"y","type":"quantitative","scale":{"domain":[0,197.3],"nice":false,"zero":false},"title":"Intensity (a.u.)"},"text":{"field":"t"}}},
{"data":{"values":[{"x":166.69,"y":78.3,"t":"S₂²⁻2p₁/₂"}]},"mark":{"type":"text","align":"left","baseline":"alphabetic","fontSize":15,"color":"#cc3de0"},"encoding":{"y":{"field":"y","type":"quantitative","scale":{"domain":[0,197.3],"nice":false,"zero":false},"title":"Intensity (a.u.)"},"text":{"field":"t"}}}
]
},
{
"width":320,"height":195,
"data":{"values":[
{"x":545,"v":42.3},{"x":544.3,"v":42.3},{"x":543.7,"v":42.3},{"x":542.71,"v":43},{"x":541.53,"v":42.3},{"x":540.74,"v":44},{"x":539.95,"v":44.7},{"x":539.15,"v":42.3},{"x":538.36,"v":40.7},{"x":537.57,"v":39},{"x":536.78,"v":35.7},{"x":535.99,"v":36.7},{"x":535.2,"v":33.3},{"x":534.6,"v":40.7},{"x":534.01,"v":54},{"x":533.42,"v":77.3},{"x":532.83,"v":104},{"x":532.23,"v":127.3},{"x":531.64,"v":144},{"x":531.05,"v":157.3},{"x":530.55,"v":162.3},{"x":530.16,"v":159},{"x":529.76,"v":144},{"x":529.36,"v":114},{"x":528.87,"v":77.3},{"x":528.47,"v":50.7},{"x":528.08,"v":34},{"x":527.68,"v":26.3},{"x":527.09,"v":23.3},{"x":526.5,"v":25.7},{"x":526,"v":29},{"x":525.72,"v":32.3}
]},
"encoding":{"x":{"field":"x","type":"quantitative","scale":{"domain":[545,525.7],"nice":false,"zero":false},"axis":{"values":[526,527,528,529,530,531,532,533,534,535,536,537,538,539,540,541,542,543,544],"labelExpr":"datum.value % 2 === 0 ? datum.label : ''","labelFlush":8},"title":"Binding energy (eV)"}},
"layer":[
{"mark":{"type":"line","interpolate":"monotone","color":"#2f5f91","strokeWidth":2.5,"clip":true},"encoding":{"y":{"field":"v","type":"quantitative","scale":{"domain":[0,198],"nice":false,"zero":false},"title":"Intensity (a.u.)"}}},
{"data":{"values":[{"x":528.77,"x2":525.7,"y":197,"y2":169}]},"mark":{"type":"rect","color":"#a6eff6","clip":true},"encoding":{"x2":{"field":"x2"},"y":{"field":"y","type":"quantitative","scale":{"domain":[0,198],"nice":false,"zero":false},"title":"Intensity (a.u.)"},"y2":{"field":"y2"}}},
{"data":{"values":[{"x":528.18,"y":175.7,"t":"O1s"}]},"mark":{"type":"text","align":"left","baseline":"alphabetic","fontSize":25,"color":"#000","clip":true},"encoding":{"y":{"field":"y","type":"quantitative","scale":{"domain":[0,198],"nice":false,"zero":false},"title":"Intensity (a.u.)"},"text":{"field":"t"}}},
{"data":{"values":[{"x":544.59,"y":175.7,"t":"After 1000 cycles"}]},"mark":{"type":"text","align":"left","baseline":"alphabetic","fontSize":20,"color":"#000"},"encoding":{"y":{"field":"y","type":"quantitative","scale":{"domain":[0,198],"nice":false,"zero":false},"title":"Intensity (a.u.)"},"text":{"field":"t"}}},
{"data":{"values":[{"x":546.08,"y":172.3,"t":"f"}]},"mark":{"type":"text","align":"center","baseline":"alphabetic","fontSize":32,"color":"#000"},"encoding":{"y":{"field":"y","type":"quantitative","scale":{"domain":[0,198],"nice":false,"zero":false},"title":"Intensity (a.u.)"},"text":{"field":"t"}}},
{"data":{"values":[{"x":543.5,"y":12.3,"t":"Atomic percentage of the O is 29.25%"}]},"mark":{"type":"text","align":"left","baseline":"alphabetic","fontSize":16.5,"color":"#000"},"encoding":{"y":{"field":"y","type":"quantitative","scale":{"domain":[0,198],"nice":false,"zero":false},"title":"Intensity (a.u.)"},"text":{"field":"t"}}}
]
}
],"spacing":39,"bounds":"flush"}
]
}
